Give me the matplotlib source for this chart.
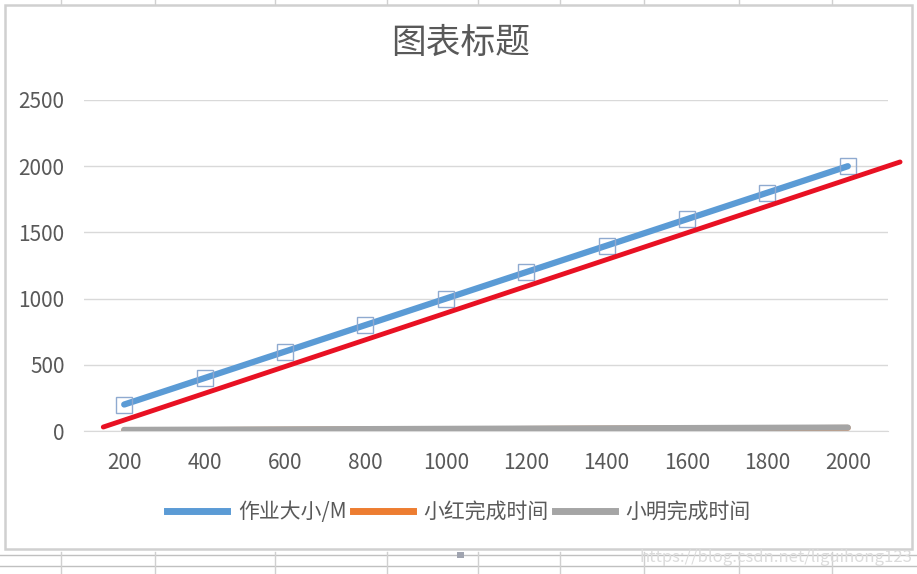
# -*- coding: utf-8 -*-

# Excel-style line chart: 作业大小 vs 完成时间
import matplotlib
matplotlib.use('Agg')
import numpy as np
import matplotlib.pyplot as plt
from matplotlib.patches import Rectangle
from matplotlib.lines import Line2D

plt.rcParams['font.family'] = ['Noto Sans CJK SC', 'DejaVu Sans']

# data
categories = ['200', '400', '600', '800', '1000', '1200', '1400', '1600', '1800', '2000']
size_mb = [200, 400, 600, 800, 1000, 1200, 1400, 1600, 1800, 2000]
xiaohong = [6, 8, 10, 12, 14, 16, 18, 20, 22, 24]
xiaoming = [8, 10, 12, 14, 16, 18, 20, 22, 24, 26]
# hand-drawn red line (category position, value)
red_x = [0.74, 10.65]
red_y = [30, 2032]
yticks = [0, 500, 1000, 1500, 2000, 2500]

blue = '#5b9bd5'
orange = '#ed7d31'
gray = '#a5a5a5'
text_col = '#595959'
grid_col = '#d9d9d9'

################################################################################

fig = plt.figure(figsize=(9.17, 5.74), dpi=100)
fig.patch.set_facecolor('white')

W, H = 917.0, 574.0

# spreadsheet grid around the chart
for yy in [555, 566]:
    fig.add_artist(Line2D([0, 1], [1 - yy / H] * 2, transform=fig.transFigure,
                          color='#c0c0c0', linewidth=1, zorder=-10))
for xx in [61, 155, 275, 387, 478, 560, 644, 739, 832]:
    fig.add_artist(Line2D([xx / W] * 2, [0, 1 - 552 / H], transform=fig.transFigure,
                          color='#d0d0d0', linewidth=1, zorder=-10))
    fig.add_artist(Line2D([xx / W] * 2, [1 - 4 / H, 1], transform=fig.transFigure,
                          color='#d0d0d0', linewidth=1, zorder=-10))
# chart area
fig.add_artist(Rectangle((5 / W, 1 - 549 / H), 907 / W, 544 / H,
                         transform=fig.transFigure, facecolor='white',
                         edgecolor='#d0d0d0', linewidth=1.8, zorder=-5))
fig.add_artist(Rectangle((457 / W, 1 - 558 / H), 7 / W, 6 / H,
                         transform=fig.transFigure, facecolor='#a0a4b0',
                         edgecolor='none', zorder=-4))

ax = fig.add_axes([84 / W, 1 - 431 / H, 804 / W, 331 / H])
ax.patch.set_alpha(0)
x = np.arange(1, len(categories) + 1)

ax.plot(x, xiaohong, color=orange, linewidth=4.2, solid_capstyle='round', zorder=3)
ax.plot(x, xiaoming, color=gray, linewidth=4.5, solid_capstyle='round', zorder=4)
ax.plot(x, size_mb, color=blue, linewidth=4.5, solid_capstyle='round', zorder=5)
# selection handles on the blue series
ax.plot(x, size_mb, linestyle='none', marker='s', markersize=12,
        markerfacecolor='none', markeredgecolor='#8faad0', markeredgewidth=1, zorder=6)
ax.plot(red_x, red_y, color='#e81123', linewidth=3.5, solid_capstyle='round',
        clip_on=False, zorder=7)

ax.set_xlim(0.5, len(categories) + 0.5)
ax.set_ylim(0, 2500)
ax.set_xticks(x)
ax.set_xticklabels(categories)
ax.set_yticks(yticks)
ax.tick_params(length=0, labelsize=15, colors=text_col, pad=15)
ax.tick_params(axis='y', pad=14)
ax.grid(axis='y', color=grid_col, linewidth=1)
ax.set_axisbelow(True)
for side in ['top', 'right', 'left']:
    ax.spines[side].set_visible(False)
ax.spines['bottom'].set_color(grid_col)

fig.text(461 / W, 1 - 43 / H, '图表标题', ha='center', va='center',
         fontsize=25, color=text_col)

handles = [Line2D([], [], color=c, linewidth=5) for c in [blue, orange, gray]]
fig.legend(handles, ['作业大小/M', '小红完成时间', '小明完成时间'],
           loc='center', bbox_to_anchor=(459 / W, 1 - 512 / H), ncol=3,
           frameon=False, fontsize=15, labelcolor=text_col,
           handlelength=2.9, handletextpad=0.5, columnspacing=0.3)

fig.text(0.995, 1 - 557 / H, 'https://blog.csdn.net/liguihong123', ha='right',
         va='center', fontsize=12, color='#dcdcdc')

fig.savefig('out.png', dpi=100)
